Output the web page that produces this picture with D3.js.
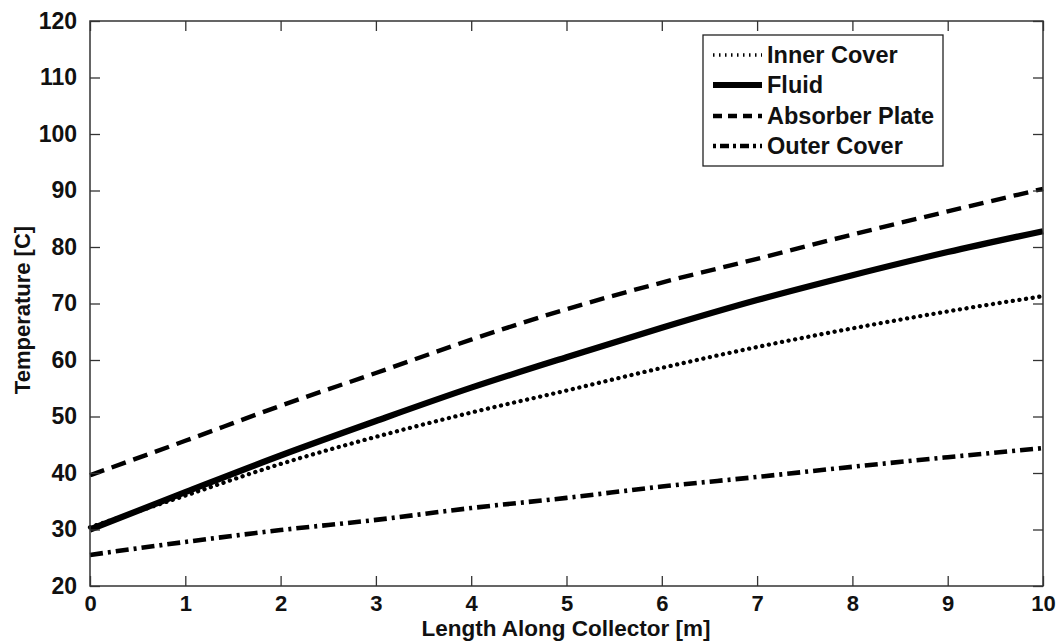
<!DOCTYPE html>
<html><head><meta charset="utf-8">
<script src="https://cdn.jsdelivr.net/npm/d3@7"></script>
<style>body{margin:0;background:#fff}svg{display:block}text{font-family:"Liberation Sans",Arial,sans-serif;font-weight:bold;fill:#111}</style>
</head><body><svg id="c" width="1063" height="641"></svg>
<script>
const xs = [0,1,2,3,4,5,6,7,8,9,10];
const innerCover = [30.4,36.0,41.6,46.4,50.7,54.6,58.6,62.3,65.6,68.6,71.3];
const fluid      = [30.0,36.6,43.1,49.2,55.1,60.5,65.7,70.6,75.0,79.1,82.8];
const absorber   = [39.6,45.7,51.9,57.7,63.6,69.0,73.7,77.9,82.2,86.3,90.3];
const outerCover = [25.5,27.8,29.9,31.7,33.8,35.6,37.6,39.3,41.1,42.8,44.4];
const xTicks = [0,1,2,3,4,5,6,7,8,9,10];
const yTicks = [20,30,40,50,60,70,80,90,100,110,120];
const seriesNames = ["Inner Cover","Fluid","Absorber Plate","Outer Cover"];

const svg = d3.select("#c");
const L=90,R=1043,T=21,B=586;
const x = d3.scaleLinear().domain([0,10]).range([L,R]);
const y = d3.scaleLinear().domain([20,120]).range([B,T]);

const styles = [
  {w:4.3, dash:"0.1 6.6", cap:"round"},
  {w:6.2, dash:null, cap:"butt"},
  {w:4.4, dash:"15 8", cap:"butt"},
  {w:4.6, dash:"13 5 3 5", cap:"butt"}
];
const data=[innerCover,fluid,absorber,outerCover];

const line = d3.line().x((d,i)=>x(xs[i])).y(d=>y(d)).curve(d3.curveMonotoneX);
const g = svg.append("g");
data.forEach((s,i)=>{
  g.append("path").attr("d",line(s)).attr("fill","none").attr("stroke","#000")
   .attr("stroke-width",styles[i].w).attr("stroke-linecap",styles[i].cap)
   .attr("stroke-dasharray",styles[i].dash);
});

// frame
svg.append("rect").attr("x",L).attr("y",T).attr("width",R-L).attr("height",B-T)
  .attr("fill","none").attr("stroke","#333").attr("stroke-width",1.5);

const axB = d3.axisBottom(x).tickValues(xTicks).tickSize(-10).tickPadding(9).tickFormat(d3.format("d"));
const axL = d3.axisLeft(y).tickValues(yTicks).tickSize(-10).tickPadding(13).tickFormat(d3.format("d"));
const axT = d3.axisTop(x).tickValues(xTicks).tickSize(-10).tickFormat("");
const axR = d3.axisRight(y).tickValues(yTicks).tickSize(-10).tickFormat("");
function style(sel,fs){sel.select(".domain").remove();sel.selectAll("line").attr("stroke","#333").attr("stroke-width",1.3);sel.selectAll("text").attr("font-size",fs).attr("fill","#111").attr("font-family","Liberation Sans, Arial, sans-serif").attr("font-weight","bold");}
svg.append("g").attr("transform",`translate(0,${B})`).call(axB).call(style,22);
svg.append("g").attr("transform",`translate(${L},0)`).call(axL).call(style,23);
svg.append("g").attr("transform",`translate(0,${T})`).call(axT).call(style,22);
svg.append("g").attr("transform",`translate(${R},0)`).call(axR).call(style,22);

svg.append("text").attr("x",566).attr("y",636).attr("text-anchor","middle").attr("font-size",22.5).text("Length Along Collector [m]");
svg.append("text").attr("transform",`translate(30,310) rotate(-90)`).attr("text-anchor","middle").attr("font-size",22).text("Temperature [C]");

// legend
const lg = svg.append("g");
lg.append("rect").attr("x",703).attr("y",35).attr("width",240).attr("height",131).attr("fill","#fff").attr("stroke","#222").attr("stroke-width",1.3);
const rowsY=[55,85,116,146];
const legDash=["1.5 4.5",null,"9 6","3 4 9 4"];
const legW=[3.5,6,4.4,4.4];
seriesNames.forEach((n,i)=>{
  lg.append("line").attr("x1",713).attr("x2",762).attr("y1",rowsY[i]).attr("y2",rowsY[i])
    .attr("stroke","#000").attr("stroke-width",legW[i])
    .attr("stroke-dasharray",legDash[i]);
  lg.append("text").attr("x",767).attr("y",rowsY[i]).attr("dy","0.36em").attr("font-size",23.5).text(n);
});
</script></body></html>
